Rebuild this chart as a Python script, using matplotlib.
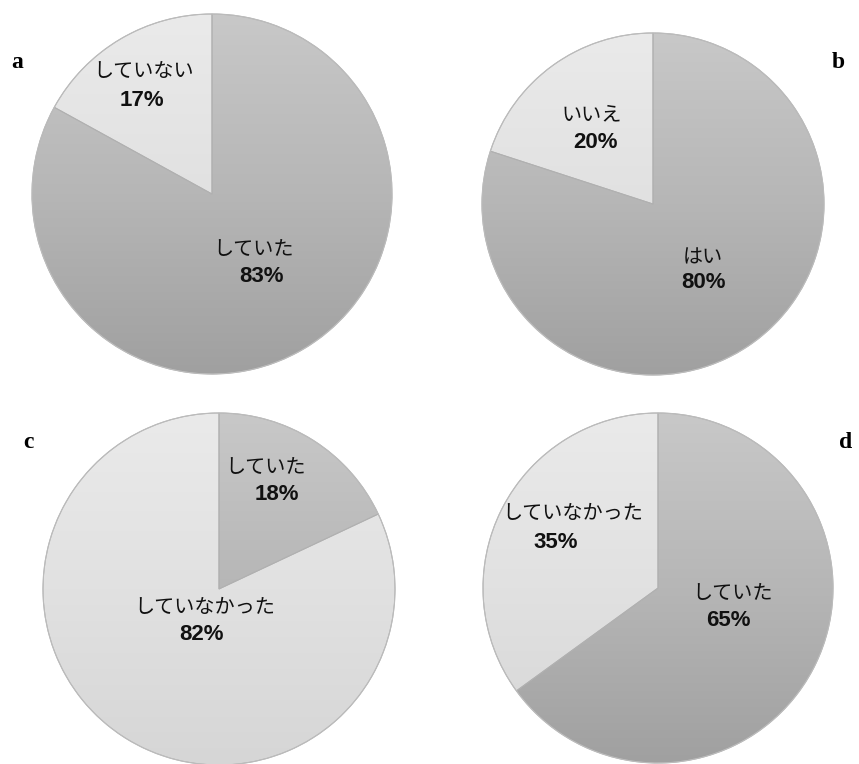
import numpy as np
import matplotlib
matplotlib.use("Agg")
import matplotlib.pyplot as plt
from matplotlib.colors import LinearSegmentedColormap

# ---- data ----
panel_letters = ["a", "b", "c", "d"]
labels_a = ["していた", "していない"]
values_a = [83, 17]
labels_b = ["はい", "いいえ"]
values_b = [80, 20]
labels_c = ["していた", "していなかった"]
values_c = [18, 82]
labels_d = ["していた", "していなかった"]
values_d = [65, 35]

W, H = 859, 764
fig = plt.figure(figsize=(W / 100, H / 100), dpi=100)
ax = fig.add_axes([0, 0, 1, 1])

JP = ["Noto Sans CJK JP", "DejaVu Sans"]
PCT = ["Liberation Sans", "DejaVu Sans"]

dark_cmap = LinearSegmentedColormap.from_list("d", ["#c8c8c8", "#b6b6b6", "#a0a0a0"])
light_cmap = LinearSegmentedColormap.from_list("l", ["#eaeaea", "#e1e1e1", "#d6d6d6"])

panels = [
    dict(vals=values_a, labs=labels_a, cx=212, cy=194, r=180, kinds=["dark", "light"],
         letter=(17, 62), txt=[(253, 250, 262, 276), (144, 72, 142, 100)]),
    dict(vals=values_b, labs=labels_b, cx=653, cy=204, r=171, kinds=["dark", "light"],
         letter=(838, 62), txt=[(703, 258, 703, 283), (592, 115, 596, 142)]),
    dict(vals=values_c, labs=labels_c, cx=219, cy=589, r=176, kinds=["dark", "light"],
         letter=(28, 443), txt=[(265, 467, 277, 495), (205, 608, 202, 635)]),
    dict(vals=values_d, labs=labels_d, cx=658, cy=588, r=175, kinds=["dark", "light"],
         letter=(846, 442), txt=[(732, 593, 728, 620), (573, 513, 556, 542)]),
]

grad = np.linspace(0, 1, 256).reshape(-1, 1)

for i, p in enumerate(panels):
    cx, cy, r = p["cx"], H - p["cy"], p["r"]
    wedges, _ = ax.pie(p["vals"], center=(cx, cy), radius=r, startangle=90,
                       counterclock=False, colors=["none", "none"],
                       wedgeprops=dict(edgecolor="#b0b0b0", linewidth=0.7),
                       frame=True)
    for w, kind in zip(wedges, p["kinds"]):
        cmap = dark_cmap if kind == "dark" else light_cmap
        im = ax.imshow(grad, cmap=cmap, aspect="auto",
                       extent=(cx - r, cx + r, cy - r, cy + r), origin="upper",
                       zorder=1)
        im.set_clip_path(w)
        w.set_zorder(2)
    rim = plt.Circle((cx, cy), r, fill=False, edgecolor="#bcbcbc", lw=0.8, zorder=3)
    ax.add_patch(rim)
    for lab, val, (lx, ly, px, py) in zip(p["labs"], p["vals"], p["txt"]):
        ax.text(lx, H - ly, lab, family=JP, fontsize=14.5, ha="center", va="center",
                color="#111111", zorder=5)
        ax.text(px, H - py, f"{val}%", family=PCT, fontweight="bold", fontsize=16,
                ha="center", va="center", color="#111111", zorder=5)
    lx, ly = p["letter"]
    ax.text(lx, H - ly, panel_letters[i], family=["Liberation Serif"], fontweight="bold",
            fontsize=17, ha="center", va="center", color="black", zorder=5)

ax.set_xlim(0, W)
ax.set_ylim(0, H)
ax.set_aspect("equal")
ax.axis("off")
fig.savefig("out.png", dpi=100, facecolor="white")
